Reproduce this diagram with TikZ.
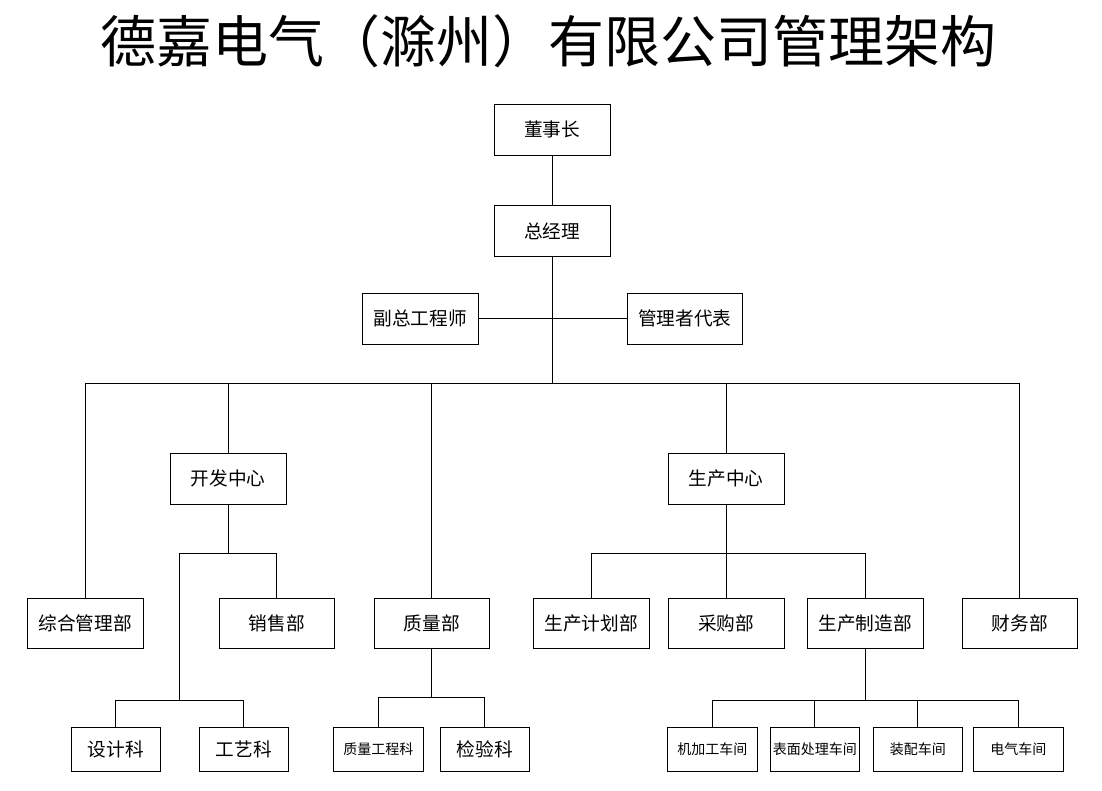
\documentclass[tikz,border=0pt]{standalone}
\usepackage{fontspec}
\setmainfont{Noto Sans CJK SC}
\begin{document}
\begin{tikzpicture}[x=0.75pt,y=-0.75pt,
  line width=0.8pt,
  bx/.style 2 args={draw, line width=0.9pt, minimum width=#1*0.75pt, minimum height=#2*0.75pt, inner sep=0pt, font=\fontsize{14pt}{16pt}\selectfont},
  sbx/.style 2 args={bx={#1}{#2}, font=\fontsize{10.5pt}{12pt}\selectfont}]
\useasboundingbox (0,0) rectangle (1102,790);
\fill[white] (0,0) rectangle (1102,790);
\node (title) at (548,41.5) {\fontsize{42pt}{50pt}\selectfont 德嘉电气（滁州）有限公司管理架构};
% top
\node[bx={116}{51}] (dsz) at (552.3,129.8) {董事长};
\node[bx={116}{51}] (zjl) at (552.3,230.8) {总经理};
\node[bx={116}{51}] (fz) at (420.3,318.8) {副总工程师};
\node[bx={115}{51}] (gl) at (684.8,318.8) {管理者代表};
% centers
\node[bx={116}{51}] (kf) at (228.3,478.8) {开发中心};
\node[bx={116}{51}] (sc) at (726.3,478.8) {生产中心};
% departments
\node[bx={116}{50}] (zh) at (85.3,623.3) {综合管理部};
\node[bx={115}{50}] (xs) at (276.8,623.3) {销售部};
\node[bx={115}{50}] (zl) at (431.8,623.3) {质量部};
\node[bx={116}{50}] (jh) at (591.3,623.3) {生产计划部};
\node[bx={116}{50}] (cg) at (726.3,623.3) {采购部};
\node[bx={116}{50}] (zz) at (865.3,623.3) {生产制造部};
\node[bx={115}{50}] (cw) at (1019.8,623.3) {财务部};
% sections
\node[bx={89}{44}] (sj) at (115.8,749.3) {设计科};
\node[bx={89}{44}] (gy) at (243.8,749.3) {工艺科};
\node[sbx={90}{44}] (zlgc) at (378.3,749.3) {质量工程科};
\node[bx={89}{44}] (jy) at (484.8,749.3) {检验科};
\node[sbx={90}{44}] (jj) at (712.3,749.3) {机加工车间};
\node[sbx={89}{44}] (bm) at (814.8,749.3) {表面处理车间};
\node[sbx={89}{44}] (zp) at (917.8,749.3) {装配车间};
\node[sbx={90}{44}] (dq) at (1018.3,749.3) {电气车间};
% coordinates
\coordinate (bus) at (552.3,383.3);
\coordinate (kfb) at (179.3,553.3);
\coordinate (kfsub) at (179.3,700.3);
\coordinate (zlb) at (431.3,697.3);
\coordinate (scb) at (726.3,553.3);
\coordinate (zzb) at (865.3,700.3);
% connectors
\draw (dsz) -- (zjl);
\draw (zjl.south) -- (bus);
\draw (fz.east) -- (gl.west);
\draw (zh.north) |- (cw.north |- bus) -- (cw.north);
\draw (kf.north) -- (kf.north |- bus);
\draw (zl.north) -- (zl.north |- bus);
\draw (sc.north) -- (sc.north |- bus);
\draw (kf.south) -- (kf.south |- kfb);
\draw (xs.north) |- (kfb) -- (kfsub);
\draw (sj.north) |- (gy.north |- kfsub) -- (gy.north);
\draw (zl.south) -- (zl.south |- zlb);
\draw (zlgc.north) |- (jy.north |- zlb) -- (jy.north);
\draw (sc.south) -- (cg.north);
\draw (jh.north) |- (zz.north |- scb) -- (zz.north);
\draw (zz.south) -- (zzb);
\draw (jj.north) |- (dq.north |- zzb) -- (dq.north);
\draw (bm.north) -- (bm.north |- zzb);
\draw (zp.north) -- (zp.north |- zzb);
\end{tikzpicture}
\end{document}
